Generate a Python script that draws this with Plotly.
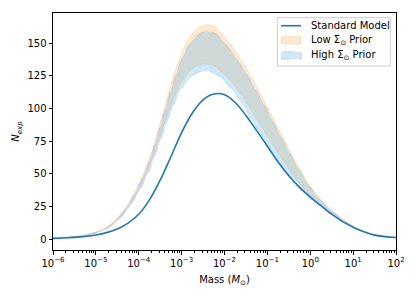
import plotly.graph_objects as go

log_mass = [-6, -5.75, -5.5, -5.25, -5, -4.75, -4.5, -4.25, -4, -3.75, -3.5, -3.25, -3,
            -2.75, -2.5, -2.25, -2, -1.75, -1.5, -1.25, -1, -0.75, -0.5, -0.25, 0,
            0.25, 0.5, 0.75, 1, 1.25, 1.5, 1.75, 2]
mass = [10 ** v for v in log_mass]

standard_model = [0.5, 0.8, 1.3, 2.0, 3.1, 4.9, 7.7, 12.2, 19, 30, 45, 63, 81.5,
                  96.5, 106.5, 111, 110.5, 104.5, 94.5, 83, 71, 59, 48.5, 39.5, 32,
                  25.5, 19, 13.5, 9, 5.5, 3, 1.8, 1.2]

low_prior_upper = [0.6, 1.1, 1.9, 3.2, 5.3, 9.0, 16, 27, 42, 62, 89, 118, 142,
                   157, 163.5, 163, 154.5, 144, 131, 116.5, 101, 85, 69, 54, 40.5,
                   30, 22, 15.5, 10, 6, 3.4, 2.0, 1.3]
low_prior_lower = [0.55, 1.0, 1.75, 2.9, 4.8, 8.2, 14.5, 24.5, 38, 56, 79, 102, 120.5,
                   130.5, 134, 132.5, 126, 117, 105, 92, 79, 66, 53.5, 42.5, 33,
                   25.5, 19, 13.5, 9, 5.5, 3.1, 1.9, 1.2]

high_prior_upper = [0.6, 1.1, 1.85, 3.1, 5.1, 8.7, 15.5, 26, 40.5, 60, 86, 114, 137.5,
                    152, 158.5, 158, 150, 139.5, 127, 113, 98, 82.5, 67, 52.5, 39.5,
                    29.3, 21.5, 15.1, 9.8, 5.9, 3.3, 2.0, 1.3]
high_prior_lower = [0.5, 0.95, 1.65, 2.75, 4.5, 7.8, 13.8, 23, 36, 53, 75, 97.5, 115.5,
                    125, 128.5, 127, 120.5, 111, 99, 85, 71.5, 58.5, 48, 39, 31.2,
                    24.7, 18.5, 13.2, 8.8, 5.3, 2.9, 1.7, 1.1]

series_names = ["Standard Model", "Low Σ<sub>⊙</sub> Prior", "High Σ<sub>⊙</sub> Prior"]

x_tick_vals = [1e-6, 1e-5, 1e-4, 1e-3, 1e-2, 1e-1, 1, 10, 100]
x_tick_text = ["10<sup>−6</sup>", "10<sup>−5</sup>", "10<sup>−4</sup>", "10<sup>−3</sup>",
               "10<sup>−2</sup>", "10<sup>−1</sup>", "10<sup>0</sup>", "10<sup>1</sup>", "10<sup>2</sup>"]
x_minor_vals = [m * 10 ** e for e in range(-6, 2) for m in range(2, 10)]
y_tick_vals = [0, 25, 50, 75, 100, 125, 150]

ORANGE_FILL = "rgba(255,165,60,0.25)"
ORANGE_EDGE = "rgba(250,170,100,0.45)"
BLUE_FILL = "rgba(105,185,230,0.33)"
BLUE_EDGE = "rgba(120,130,230,0.45)"
SM_COLOR = "#1f77b4"
FONT = "DejaVu Sans"

fig = go.Figure()

# Low prior band
fig.add_trace(go.Scatter(x=mass, y=low_prior_lower, mode="lines",
                         line=dict(width=0.6, color=ORANGE_EDGE, shape="spline"),
                         showlegend=False, hoverinfo="skip"))
fig.add_trace(go.Scatter(x=mass, y=low_prior_upper, mode="lines", fill="tonexty",
                         fillcolor=ORANGE_FILL,
                         line=dict(width=0.6, color=ORANGE_EDGE, shape="spline"),
                         name=series_names[1], showlegend=False))
# High prior band
fig.add_trace(go.Scatter(x=mass, y=high_prior_lower, mode="lines",
                         line=dict(width=0.6, color=BLUE_EDGE, dash="dash", shape="spline"),
                         showlegend=False, hoverinfo="skip"))
fig.add_trace(go.Scatter(x=mass, y=high_prior_upper, mode="lines", fill="tonexty",
                         fillcolor=BLUE_FILL,
                         line=dict(width=0.6, color=BLUE_EDGE, dash="dash", shape="spline"),
                         name=series_names[2], showlegend=False))
# Standard model
fig.add_trace(go.Scatter(x=mass, y=standard_model, mode="lines",
                         line=dict(width=1.6, color=SM_COLOR, shape="spline"),
                         name=series_names[0], showlegend=False))

axis_common = dict(showline=True, linecolor="black", linewidth=1, mirror=True,
                   ticks="outside", ticklen=3.5, tickwidth=0.8, tickcolor="black",
                   showgrid=False, zeroline=False,
                   tickfont=dict(family=FONT, size=10, color="black"))

fig.update_xaxes(type="log", range=[-6, 2], tickvals=x_tick_vals, ticktext=x_tick_text,
                 minor=dict(tickvals=x_minor_vals, ticks="outside", ticklen=2, tickwidth=0.6,
                            tickcolor="black", showgrid=False),
                 title=dict(text="Mass (<i>M</i><sub>⊙</sub>)", font=dict(family=FONT, size=10, color="black"),
                            standoff=8),
                 **axis_common)
fig.update_yaxes(range=[-8.4, 173], tickvals=y_tick_vals,
                 title=dict(text="<i>N</i><sub><i>exp</i></sub>", font=dict(family=FONT, size=10, color="black"),
                            standoff=5),
                 **axis_common)

# Legend (drawn in paper coordinates, matplotlib style)
legend_shapes = [
    dict(type="rect", xref="paper", yref="paper", x0=0.654, x1=0.9834, y0=0.7764, y1=0.9802,
         line=dict(color="#cccccc", width=1), fillcolor="rgba(255,255,255,0.8)", layer="above"),
    dict(type="line", xref="paper", yref="paper", x0=0.6647, x1=0.7230, y0=0.9464, y1=0.9464,
         line=dict(color=SM_COLOR, width=1.6), layer="above"),
    dict(type="rect", xref="paper", yref="paper", x0=0.6647, x1=0.7230, y0=0.8692, y1=0.90,
         line=dict(color=ORANGE_EDGE, width=0.6), fillcolor=ORANGE_FILL, layer="above"),
    dict(type="rect", xref="paper", yref="paper", x0=0.6647, x1=0.7230, y0=0.8059, y1=0.8367,
         line=dict(color=BLUE_EDGE, width=0.8, dash="dash"), fillcolor=BLUE_FILL, layer="above"),
]
legend_y = [0.9464, 0.8848, 0.8215]
legend_annotations = [
    dict(xref="paper", yref="paper", x=0.7455, y=yy, text=name, showarrow=False,
         xanchor="left", yanchor="middle", font=dict(family=FONT, size=10, color="black"))
    for name, yy in zip(series_names, legend_y)
]

# The page body has an 8px default margin, so the figure is sized to fit the 415x297 window.
fig.update_layout(
    width=407, height=289,
    margin=dict(l=45, r=19, t=5, b=47),
    paper_bgcolor="white", plot_bgcolor="white",
    font=dict(family=FONT, size=10, color="black"),
    showlegend=False,
    shapes=legend_shapes,
    annotations=legend_annotations,
)

fig.write_html("out.html")
